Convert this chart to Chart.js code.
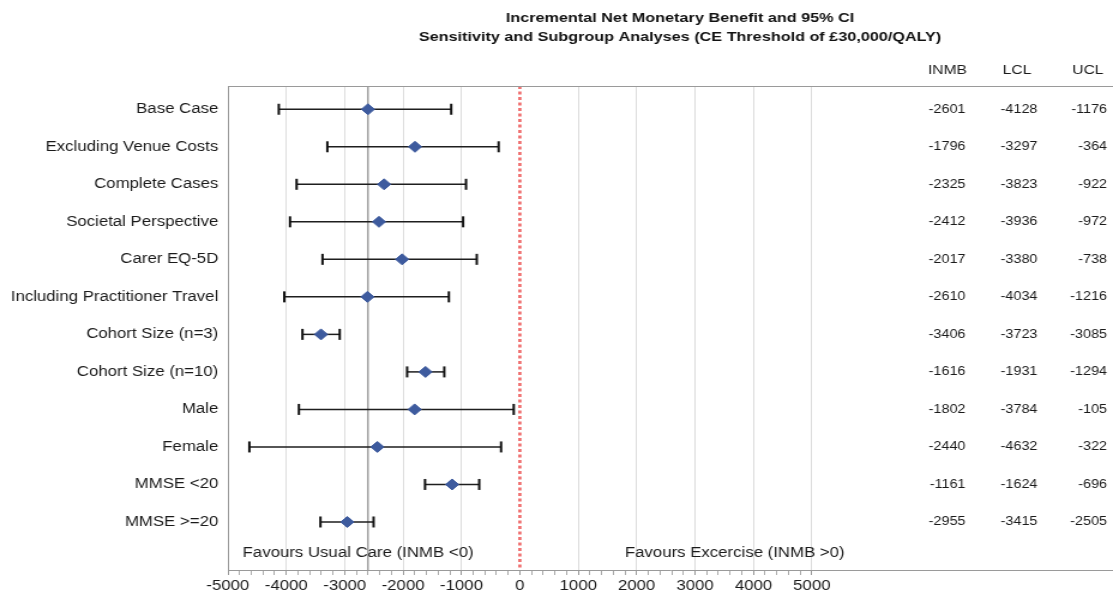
<!DOCTYPE html>
<html>
<head>
<meta charset="utf-8">
<script src="https://cdn.jsdelivr.net/npm/chart.js@4.4.1/dist/chart.umd.min.js"></script>
<style>
  html, body { margin: 0; padding: 0; background: #ffffff; overflow: hidden; }
  #wrap { width: 928px; height: 598px; transform: scaleX(1.19935); transform-origin: 0 0; }
</style>
</head>
<body>
<div id="wrap"><canvas id="c"></canvas></div>
<script>
// ---- data ----
const categories = [
  'Base Case', 'Excluding Venue Costs', 'Complete Cases', 'Societal Perspective',
  'Carer EQ-5D', 'Including Practitioner Travel', 'Cohort Size (n=3)', 'Cohort Size (n=10)',
  'Male', 'Female', 'MMSE <20', 'MMSE >=20'
];
const inmb = [-2601, -1796, -2325, -2412, -2017, -2610, -3406, -1616, -1802, -2440, -1161, -2955];
const lcl  = [-4128, -3297, -3823, -3936, -3380, -4034, -3723, -1931, -3784, -4632, -1624, -3415];
const ucl  = [-1176,  -364,  -922,  -972,  -738, -1216, -3085, -1294,  -105,  -322,  -696, -2505];
const xTickLabels = [-5000, -4000, -3000, -2000, -1000, 0, 1000, 2000, 3000, 4000, 5000];
const tableHeaders = ['INMB', 'LCL', 'UCL'];
const titleLines = [
  'Incremental Net Monetary Benefit and 95% CI',
  'Sensitivity and Subgroup Analyses (CE Threshold of £30,000/QALY)'
];
const regionLabels = ['Favours Usual Care (INMB <0)', 'Favours Excercise (INMB >0)'];

// ---- layout constants ----
const FONT = '"Liberation Sans", Arial, Helvetica, sans-serif';
const xMin = -5000, xMax = 10157;
const yMin = -0.62, yMax = 12.28;
const regionLabelX = [-2770, 3680];
const regionLabelY = 11.83;
const minorStep = 200;

Chart.defaults.font.family = FONT;

const minorTicks = [];
for (let v = xTickLabels[0]; v <= xTickLabels[xTickLabels.length - 1]; v += minorStep) minorTicks.push(v);

const errorBarSets = categories.map((c, i) => ({
  label: c,
  data: [{x: lcl[i], y: i}, {x: ucl[i], y: i}],
  showLine: true,
  borderColor: '#1e1e1e',
  borderWidth: 1.5,
  pointStyle: 'line',
  rotation: 90,
  pointRadius: 5.5,
  pointBorderColor: '#111',
  pointBorderWidth: 2,
  order: 1
}));

const textPlugin = {
  id: 'texts',
  afterDraw(chart) {
    const ctx = chart.ctx;
    const a = chart.chartArea;
    const xs = chart.scales.x, ys = chart.scales.y;
    ctx.save();
    // top frame
    ctx.strokeStyle = '#9a9a9a';
    ctx.lineWidth = 1;
    ctx.beginPath();
    ctx.moveTo(a.left, Math.round(a.top) + 0.5);
    ctx.lineTo(a.right, Math.round(a.top) + 0.5);
    ctx.stroke();
    // title
    ctx.fillStyle = '#111';
    ctx.textAlign = 'center';
    ctx.textBaseline = 'middle';
    ctx.font = 'bold 13.5px ' + FONT;
    const cx = (a.left + a.right) / 2 + 8;
    ctx.fillText(titleLines[0], cx, 18);
    ctx.fillText(titleLines[1], cx, 37);
    // table header
    ctx.font = '13px ' + FONT;
    ctx.fillStyle = '#1a1a1a';
    const headerCx = [a.right - 138, a.right - 80, a.right - 21];
    tableHeaders.forEach((h, k) => ctx.fillText(h, headerCx[k], 70));
    // table values
    ctx.font = '12px ' + FONT;
    ctx.textAlign = 'right';
    const colRight = [a.right - 123, a.right - 63, a.right - 5];
    const cols = [inmb, lcl, ucl];
    categories.forEach((c, i) => {
      const y = ys.getPixelForValue(i);
      cols.forEach((arr, k) => ctx.fillText(String(arr[i]), colRight[k], y));
    });
    // region labels
    ctx.font = '14px ' + FONT;
    ctx.textAlign = 'center';
    ctx.fillStyle = '#1a1a1a';
    regionLabels.forEach((t, k) => {
      ctx.fillText(t, xs.getPixelForValue(regionLabelX[k]), ys.getPixelForValue(regionLabelY));
    });
    ctx.restore();
  }
};

new Chart(document.getElementById('c'), {
  type: 'scatter',
  data: {
    datasets: [
      {
        label: 'INMB',
        data: inmb.map((v, i) => ({x: v, y: i})),
        pointStyle: 'rectRot',
        pointRadius: 5.5,
        backgroundColor: '#3E5B9E',
        borderColor: '#3E5B9E',
        borderWidth: 1,
        order: 0
      },
      ...errorBarSets,
      {
        label: 'base',
        data: [{x: inmb[0], y: yMin}, {x: inmb[0], y: yMax}],
        showLine: true,
        borderColor: '#8a8a8a',
        borderWidth: 1.2,
        pointRadius: 0,
        order: 2
      },
      {
        label: 'zero',
        data: [{x: 0, y: yMin}, {x: 0, y: yMax}],
        showLine: true,
        borderColor: '#F06A6A',
        borderWidth: 2.6,
        borderDash: [3, 2.5],
        pointRadius: 0,
        order: 3
      }
    ]
  },
  options: {
    responsive: true,
    maintainAspectRatio: false,
    animation: false,
    events: [],
    layout: { autoPadding: false, padding: { top: 86, right: 0, bottom: 0, left: 0 } },
    plugins: { legend: { display: false }, tooltip: { enabled: false }, title: { display: false } },
    scales: {
      x: {
        type: 'linear',
        min: xMin,
        max: xMax,
        afterBuildTicks: s => { s.ticks = minorTicks.map(v => ({value: v})); },
        afterFit: s => { s.height = 28; },
        ticks: {
          autoSkip: false,
          maxRotation: 0,
          padding: 3,
          color: '#1a1a1a',
          font: { size: 14, family: FONT },
          callback: v => xTickLabels.includes(v) ? String(v) : ''
        },
        grid: {
          color: c => (c.tick && xTickLabels.includes(c.tick.value) && c.tick.value !== 0 && c.tick.value !== xTickLabels[0]) ? '#dcdcdc' : 'rgba(0,0,0,0)',
          tickColor: c => (c.tick && xTickLabels.includes(c.tick.value)) ? '#999' : '#aaa',
          tickLength: 5,
          lineWidth: 1
        },
        border: { display: true, color: '#9a9a9a', width: 1 }
      },
      y: {
        type: 'linear',
        reverse: true,
        min: yMin,
        max: yMax,
        afterBuildTicks: s => { s.ticks = categories.map((c, i) => ({value: i})); },
        afterFit: s => { s.width = 190; },
        ticks: {
          autoSkip: false,
          padding: 8,
          color: '#1a1a1a',
          font: { size: 14, family: FONT },
          callback: v => categories[v]
        },
        grid: { display: false, drawTicks: false },
        border: { display: true, color: '#9a9a9a', width: 1 }
      }
    }
  },
  plugins: [textPlugin]
});
</script>
</body>
</html>
